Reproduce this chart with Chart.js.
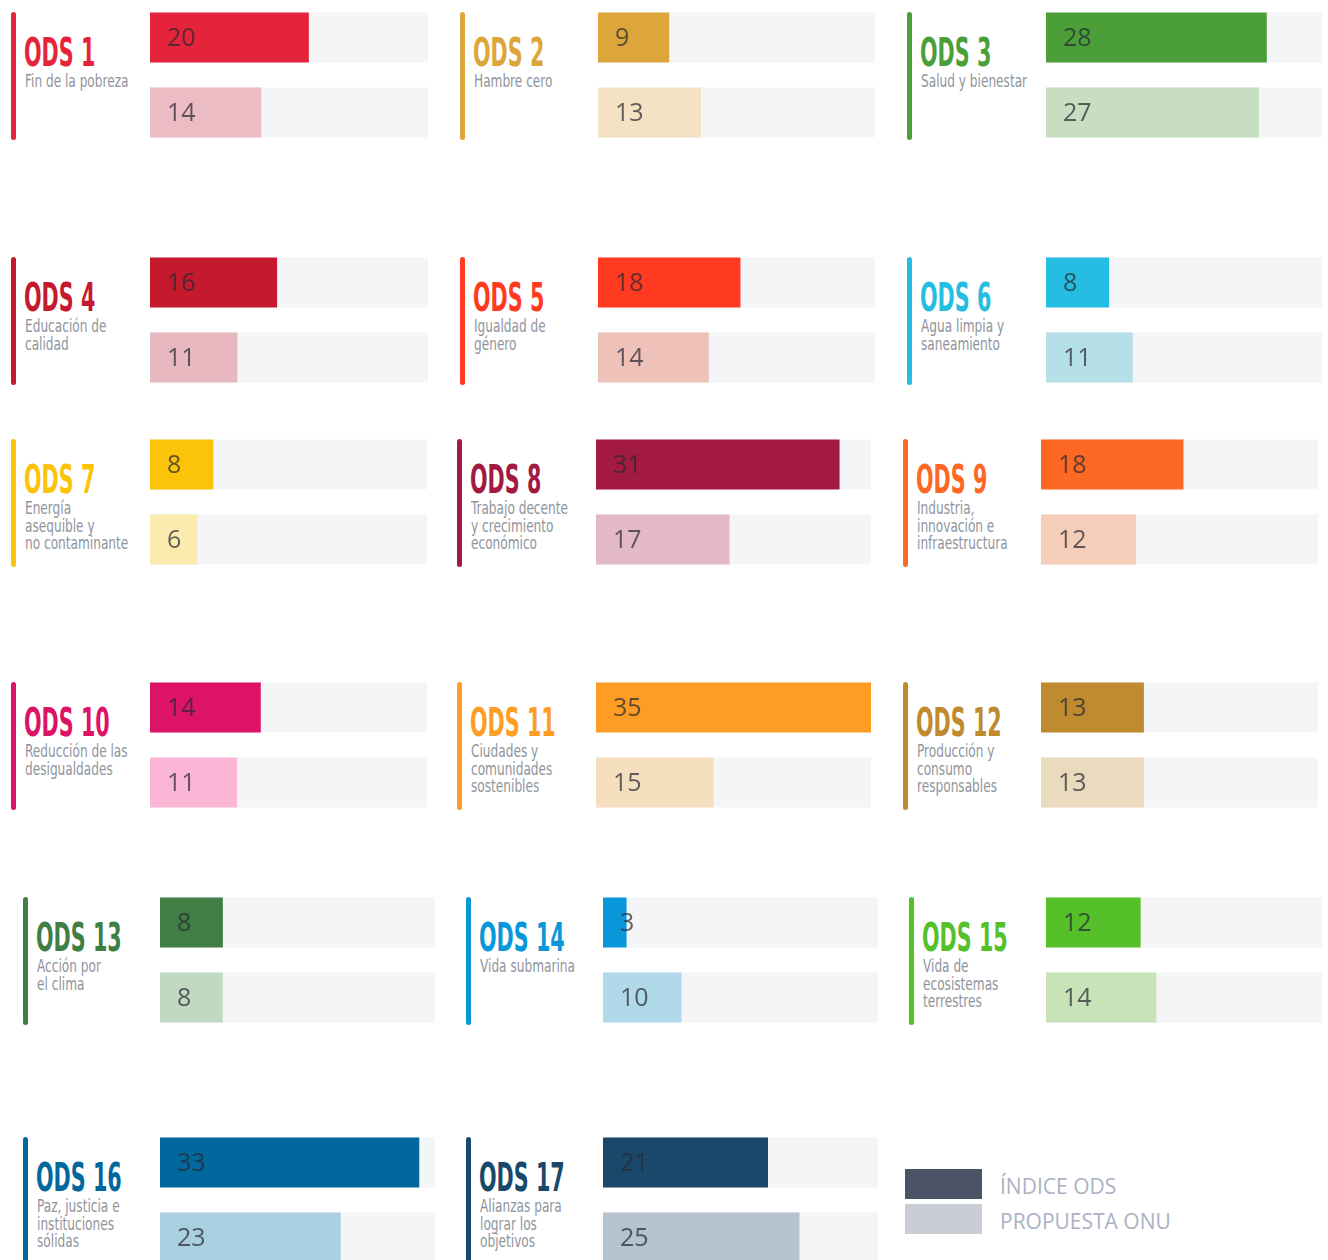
<!DOCTYPE html>
<html lang="es">
<head>
<meta charset="utf-8">
<title>Índice ODS</title>
<script src="https://cdn.jsdelivr.net/npm/chart.js@4.4.0/dist/chart.umd.min.js"></script>
<style>
    html, body {
        margin: 0;
        padding: 0;
        background: #fff;
    }
    body {
        position: relative;
        width: 1328px;
        height: 1260px;
        overflow: hidden;
    }
    .stripe {
        position: absolute;
        width: 5px;
        height: 128px;
        border-radius: 3px;
    }
    .label {
        position: absolute;
        white-space: nowrap;
    }
    .goal {
        font-family: "DejaVu Sans Condensed", sans-serif;
        font-weight: bold;
        font-size: 39px;
        line-height: 39px;
        transform: scaleX(0.59);
        transform-origin: left top;
    }
    .name {
        font-family: "DejaVu Sans Condensed", sans-serif;
        font-size: 18px;
        line-height: 17.5px;
        color: #8f949c;
        transform: scaleX(0.75);
        transform-origin: left top;
    }
    canvas {
        position: absolute;
    }
    .legend {
        position: absolute;
        left: 905px;
        top: 1169px;
    }
    .legend .row {
        position: relative;
        height: 35px;
    }
    .legend .swatch {
        position: absolute;
        left: 0;
        top: 0;
        width: 77px;
        height: 30px;
    }
    .legend .text {
        position: absolute;
        left: 95px;
        top: 2px;
        font-family: "Open Sans", sans-serif;
        font-size: 21px;
        line-height: 30px;
        color: #aab2c2;
        white-space: nowrap;
    }
</style>
</head>
<body>
<script>
    // data
    var goals = ['ODS 1', 'ODS 2', 'ODS 3', 'ODS 4', 'ODS 5', 'ODS 6', 'ODS 7', 'ODS 8', 'ODS 9',
        'ODS 10', 'ODS 11', 'ODS 12', 'ODS 13', 'ODS 14', 'ODS 15', 'ODS 16', 'ODS 17']
    var goalNames = [
        ['Fin de la pobreza'],
        ['Hambre cero'],
        ['Salud y bienestar'],
        ['Educación de', 'calidad'],
        ['Igualdad de', 'género'],
        ['Agua limpia y', 'saneamiento'],
        ['Energía', 'asequible y', 'no contaminante'],
        ['Trabajo decente', 'y crecimiento', 'económico'],
        ['Industria,', 'innovación e', 'infraestructura'],
        ['Reducción de las', 'desigualdades'],
        ['Ciudades y', 'comunidades', 'sostenibles'],
        ['Producción y', 'consumo', 'responsables'],
        ['Acción por', 'el clima'],
        ['Vida submarina'],
        ['Vida de', 'ecosistemas', 'terrestres'],
        ['Paz, justicia e', 'instituciones', 'sólidas'],
        ['Alianzas para', 'lograr los', 'objetivos']
    ]
    var seriesLabels = ['ÍNDICE ODS', 'PROPUESTA ONU']
    var indiceOds = [20, 9, 28, 16, 18, 8, 8, 31, 18, 14, 35, 13, 8, 3, 12, 33, 21]
    var propuestaOnu = [14, 13, 27, 11, 14, 11, 6, 17, 12, 11, 15, 13, 8, 10, 14, 23, 25]
    var scaleMax = 35

    // colours
    var mainColors = ['#e5243b', '#dda63a', '#4c9f38', '#c5192d', '#ff3a21', '#26bde2', '#fcc30b', '#a21942', '#fd6925',
        '#dd1367', '#fd9d24', '#bf8b2e', '#3f7e44', '#0a97d9', '#56c02b', '#00689d', '#19486a']
    var lightColors = ['#ebbcc4', '#f3e3c4', '#c7dfc0', '#e8b8c1', '#efc2b9', '#b5e0e8', '#fcebaf', '#e4b9c7', '#f5cdb8',
        '#fcb6d5', '#f5dfbf', '#eadbbe', '#c1d8c3', '#b0d9ea', '#c9e3b8', '#a9cfe0', '#b4c3cf']
    var trackColor = '#f4f5f7'
    var legendColors = ['#4b5567', '#c9cdd4']

    // layout: stripe x, panel top, track left, track width
    var panels = [
        [11, 12, 150, 278], [460, 12, 598, 277], [907, 12, 1046, 276],
        [11, 257, 150, 278], [460, 257, 598, 277], [907, 257, 1046, 276],
        [11, 439, 150, 277], [457, 439, 596, 275], [903, 439, 1041, 277],
        [11, 682, 150, 277], [457, 682, 596, 275], [903, 682, 1041, 277],
        [23, 897, 160, 275], [466, 897, 603, 275], [909, 897, 1046, 276],
        [23, 1137, 160, 275], [466, 1137, 603, 275]
    ]

    var valueLabels = {
        id: 'valueLabels',
        afterDatasetsDraw(chart) {
            var { ctx, chartArea } = chart
            var meta = chart.getDatasetMeta(0)
            var values = chart.data.datasets[0].data
            ctx.save()
            ctx.font = '25px "Open Sans"'
            ctx.fillStyle = 'rgba(40, 40, 50, 0.72)'
            ctx.textBaseline = 'middle'
            meta.data.forEach(function(bar, j) {
                ctx.fillText(values[j], chartArea.left + 17, bar.y + 1)
            })
            ctx.restore()
        }
    }

    function el(tag, cls, style) {
        var node = document.createElement(tag)
        if (cls) node.className = cls
        Object.assign(node.style, style || {})
        document.body.appendChild(node)
        return node
    }

    goals.forEach(function(goal, i) {
        var [x, top, trackLeft, trackWidth] = panels[i]

        el('div', 'stripe', { left: x + 'px', top: top + 'px', background: mainColors[i] })

        var title = el('div', 'label goal', { left: (x + 13) + 'px', top: (top + 21) + 'px', color: mainColors[i] })
        title.textContent = goal

        var name = el('div', 'label name', { left: (x + 14) + 'px', top: (top + 60) + 'px' })
        name.innerHTML = goalNames[i].join('<br>')

        var canvas = el('canvas', null, { left: trackLeft + 'px', top: (top - 12.5) + 'px' })
        canvas.width = trackWidth
        canvas.height = 150

        new Chart(canvas, {
            type: 'bar',
            data: {
                labels: seriesLabels,
                datasets: [
                    {
                        label: goal,
                        data: [indiceOds[i], propuestaOnu[i]],
                        backgroundColor: [mainColors[i], lightColors[i]],
                        grouped: false,
                        order: 0,
                        barPercentage: 0.667,
                        categoryPercentage: 1
                    },
                    {
                        label: 'max',
                        data: [scaleMax, scaleMax],
                        backgroundColor: trackColor,
                        grouped: false,
                        order: 1,
                        barPercentage: 0.667,
                        categoryPercentage: 1
                    }
                ]
            },
            options: {
                indexAxis: 'y',
                responsive: false,
                animation: false,
                layout: { padding: 0 },
                plugins: {
                    legend: { display: false },
                    tooltip: { enabled: false }
                },
                scales: {
                    x: { display: false, min: 0, max: scaleMax },
                    y: { display: false }
                }
            },
            plugins: [valueLabels]
        })
    })

    // legend
    var legend = el('div', 'legend')
    seriesLabels.forEach(function(text, j) {
        var row = document.createElement('div')
        row.className = 'row'
        row.innerHTML = '<div class="swatch" style="background:' + legendColors[j] + '"></div><div class="text"></div>'
        row.querySelector('.text').textContent = text
        legend.appendChild(row)
    })
</script>
</body>
</html>
